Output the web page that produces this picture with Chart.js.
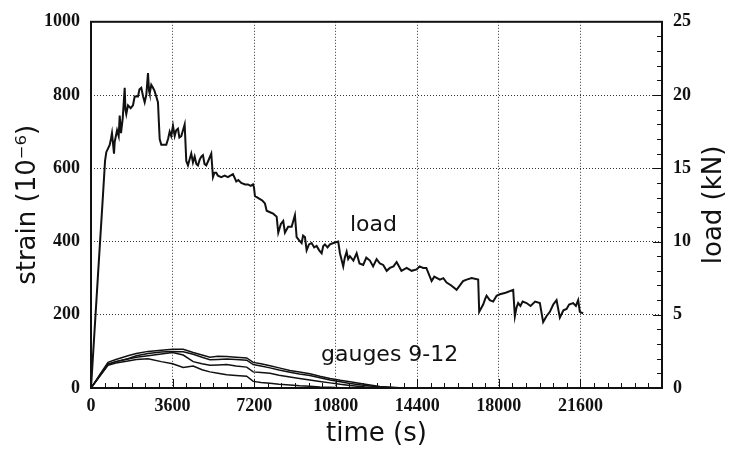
<!DOCTYPE html>
<html lang="en">
<head>
<meta charset="UTF-8">
<title>Strain and load vs time</title>
<script src="https://cdn.jsdelivr.net/npm/chart.js"></script>
<style>
  html, body { margin: 0; padding: 0; background: #fff; }
  #wrap { width: 734px; height: 460px; }
</style>
</head>
<body>
<div id="wrap"><canvas id="chart" width="734" height="460"></canvas></div>
<script>
// load record (time in s, load in kN, right axis)
const loadTime = [0, 300, 530, 620, 675, 825, 880, 926, 1015, 1046, 1150, 1222, 1266, 1324, 1400, 1487,
  1520, 1557, 1632, 1750, 1853, 1928, 2074, 2140, 2219, 2300, 2369, 2440, 2515, 2560, 2590, 2660,
  2735, 2800, 2881, 2956, 3000, 3031, 3102, 3322, 3400, 3472, 3540, 3618, 3693, 3760, 3838, 3900,
  3984, 4060, 4134, 4205, 4280, 4350, 4425, 4500, 4575, 4650, 4721, 4800, 4870, 4941, 5010, 5087,
  5200, 5308, 5383, 5450, 5528, 5600, 5749, 5900, 6044, 6150, 6265, 6411, 6500, 6631, 6800, 6927,
  7050, 7147, 7192, 7236, 7350, 7456, 7560, 7677, 7752, 7900, 8043, 8120, 8193, 8264, 8380, 8484,
  8559, 8700, 8855, 9000, 9075, 9180, 9296, 9360, 9442, 9517, 9620, 9737, 9850, 9958, 10070, 10179,
  10250, 10324, 10440, 10545, 10700, 10911, 10986, 11050, 11132, 11200, 11282, 11350, 11427, 11580, 11723, 11850,
  12014, 12150, 12310, 12450, 12605, 12750, 12896, 13050, 13192, 13350, 13488, 13700, 13929, 14150, 14370, 14500,
  14661, 14800, 15032, 15150, 15398, 15550, 15694, 15900, 16135, 16280, 16420, 16576, 16800, 17088, 17132, 17308,
  17400, 17458, 17600, 17749, 17900, 18045, 18300, 18632, 18707, 18780, 18852, 18950, 19050, 19223, 19400, 19600,
  19810, 19955, 20100, 20251, 20400, 20546, 20692, 20850, 20988, 21100, 21279, 21400, 21500, 21574, 21720];
const loadKN = [0, 7.5, 13.2, 15.5, 16.1, 16.6, 17.0, 17.4, 16.0, 16.8, 17.6, 17.2, 18.6, 17.4, 18.4, 20.5,
  19.0, 18.7, 19.3, 19.1, 19.3, 19.9, 19.9, 20.4, 20.5, 19.9, 19.5, 20.0, 21.5, 20.3, 20.1, 20.7,
  20.5, 20.3, 19.9, 19.5, 18.0, 17.0, 16.6, 16.6, 17.0, 17.5, 17.2, 17.9, 17.2, 17.6, 17.7, 17.1,
  17.2, 17.6, 18.0, 15.5, 15.2, 15.6, 16.0, 15.4, 15.8, 15.3, 15.2, 15.6, 15.8, 15.9, 15.3, 15.2,
  15.6, 16.0, 14.4, 14.7, 14.7, 14.5, 14.4, 14.5, 14.4, 14.5, 14.6, 14.1, 14.2, 14.0, 13.9, 13.9,
  13.8, 13.9, 13.7, 13.1, 13.0, 12.9, 12.8, 12.6, 12.1, 12.0, 11.9, 11.8, 11.7, 10.6, 11.2, 11.4,
  10.6, 11.0, 11.0, 11.8, 10.3, 10.1, 9.9, 10.4, 10.3, 9.4, 9.8, 9.9, 9.6, 9.7, 9.4, 9.2,
  9.7, 9.8, 9.6, 9.8, 9.9, 10.0, 9.2, 8.8, 8.3, 8.9, 9.3, 8.8, 9.0, 8.7, 9.2, 8.5,
  8.4, 8.9, 8.7, 8.3, 8.8, 8.5, 8.4, 8.0, 8.2, 8.3, 8.6, 8.0, 8.2, 8.0, 8.1, 8.3,
  8.2, 8.2, 7.3, 7.6, 7.4, 7.5, 7.2, 7.0, 6.7, 7.0, 7.3, 7.4, 7.5, 7.4, 5.2, 5.7,
  6.1, 6.3, 6.0, 5.9, 6.3, 6.4, 6.5, 6.7, 4.9, 5.5, 5.8, 5.6, 5.9, 5.8, 5.6, 5.9,
  5.8, 4.5, 4.9, 5.2, 5.7, 6.0, 4.8, 5.3, 5.4, 5.7, 5.8, 5.6, 6.0, 5.2, 5.1];

// gauges 9-12 (strain, 10^-6)
const gaugeTime = [0, 400, 750, 1100, 1630, 2000, 2520, 3100, 3600, 4070, 4510, 4900, 5250, 5600, 5990, 6400,
  6870, 7160, 7500, 7900, 8300, 8780, 9200, 9660, 10100, 10550, 11000, 11430, 12100, 12750, 13630, 14400];
const gauge9  = [0, 38, 70, 78, 88, 94, 100, 103, 106, 106, 97, 90, 84, 87, 86, 84,
  82, 70, 66, 61, 55, 48, 44, 39, 32, 26, 21, 17, 10, 4, 1, 0];
const gauge10 = [0, 35, 66, 72, 79, 84, 88, 93, 97, 90, 72, 66, 62, 63, 64, 60,
  57, 44, 42, 40, 35, 30, 26, 22, 18, 14, 10, 7, 3, 1, 0, 0];
const gauge11 = [0, 33, 62, 68, 74, 78, 80, 72, 66, 56, 60, 50, 44, 40, 36, 34,
  32, 18, 15, 13, 10, 8, 6, 5, 3, 2, 1, 0, 0, 0, 0, 0];
const gauge12 = [0, 34, 64, 72, 80, 88, 94, 98, 100, 99, 92, 84, 77, 78, 79, 78,
  76, 64, 60, 55, 49, 43, 38, 34, 28, 22, 17, 12, 7, 3, 0, 0];

const timeTicks = [0, 3600, 7200, 10800, 14400, 18000, 21600];

const tickFont = { family: 'Liberation Serif', weight: 'bold', size: 18 };
const titleFont = { family: 'DejaVu Sans', size: 26 };

function pts(xs, ys) {
  return xs.map((x, i) => ({ x: x, y: ys[i] }));
}

function gaugeSet(label, ys) {
  return { label: label, data: pts(gaugeTime, ys), yAxisID: 'y', borderColor: '#111', borderWidth: 1.5,
    pointRadius: 0, fill: false, tension: 0 };
}

// frame, minor ticks, right title, in-plot labels
const extras = {
  id: 'extras',
  afterDatasetsDraw(chart) {
    const ctx = chart.ctx;
    const a = chart.chartArea;
    const sx = chart.scales.x, sy = chart.scales.y, s2 = chart.scales.y2;
    ctx.save();
    ctx.strokeStyle = '#111';
    ctx.lineWidth = 1;
    ctx.beginPath();
    for (let t = 600; t < 25200; t += 600) {
      const px = Math.round(sx.getPixelForValue(t)) + 0.5;
      const len = t % 3600 === 0 ? 9 : 5;
      ctx.moveTo(px, a.bottom);
      ctx.lineTo(px, a.bottom - len);
    }
    for (let k = 1; k < 25; k++) {
      const py = Math.round(s2.getPixelForValue(k)) + 0.5;
      ctx.moveTo(a.right, py);
      ctx.lineTo(a.right - (k % 5 === 0 ? 9 : 5), py);
    }
    ctx.stroke();

    ctx.lineWidth = 2;
    ctx.strokeRect(a.left, a.top, a.right - a.left, a.bottom - a.top);

    ctx.fillStyle = '#111';
    ctx.font = '26px "DejaVu Sans"';
    ctx.textAlign = 'center';
    ctx.textBaseline = 'middle';
    ctx.translate(714, (a.top + a.bottom) / 2);
    ctx.rotate(-Math.PI / 2);
    ctx.fillText('load (kN)', 0, 0);
    ctx.restore();

    ctx.save();
    ctx.fillStyle = '#111';
    ctx.font = '22px "DejaVu Sans"';
    ctx.textAlign = 'left';
    ctx.textBaseline = 'alphabetic';
    ctx.fillText('load', sx.getPixelForValue(11430), sy.getPixelForValue(428));
    ctx.fillText('gauges 9-12', sx.getPixelForValue(10150), sy.getPixelForValue(75));
    ctx.restore();
  }
};

function gridColor(c) {
  const v = c.tick.value;
  return (v === c.scale.min || v === c.scale.max) ? 'rgba(0,0,0,0)' : '#333';
}

new Chart(document.getElementById('chart'), {
  type: 'line',
  data: {
    datasets: [
      { label: 'load', data: pts(loadTime, loadKN), yAxisID: 'y2', borderColor: '#111', borderWidth: 2,
        pointRadius: 0, fill: false, tension: 0 },
      gaugeSet('gauge 9', gauge9),
      gaugeSet('gauge 10', gauge10),
      gaugeSet('gauge 11', gauge11),
      gaugeSet('gauge 12', gauge12)
    ]
  },
  options: {
    responsive: false,
    animation: false,
    layout: { padding: { top: 14, left: 0, right: 0, bottom: 0 } },
    plugins: { legend: { display: false }, tooltip: { enabled: false } },
    scales: {
      x: {
        type: 'linear', min: 0, max: 25200,
        afterFit: s => { s.height = 72; },
        ticks: {
          stepSize: 3600, autoSkip: false, maxRotation: 0, color: '#111', font: tickFont, padding: 8,
          callback: v => timeTicks.includes(v) ? String(v) : ''
        },
        grid: { color: gridColor, lineWidth: 1, drawTicks: false },
        border: { display: false, dash: [1, 2] },
        title: { display: true, text: 'time (s)', color: '#111', font: titleFont, padding: { top: 0, bottom: 10 } }
      },
      y: {
        position: 'left', min: 0, max: 1000,
        afterFit: s => { s.width = 91; },
        ticks: { stepSize: 200, color: '#111', font: tickFont, padding: 11, callback: v => String(v) },
        grid: { color: gridColor, lineWidth: 1, drawTicks: false },
        border: { display: false, dash: [1, 2] },
        title: { display: true, text: 'strain (10⁻⁶)', color: '#111', font: titleFont, padding: { top: 13, bottom: 0 } }
      },
      y2: {
        position: 'right', min: 0, max: 25,
        afterFit: s => { s.width = 72; },
        ticks: { stepSize: 5, color: '#111', font: tickFont, padding: 11, callback: v => String(v) },
        grid: { drawOnChartArea: false, drawTicks: false },
        border: { display: false }
      }
    }
  },
  plugins: [extras]
});
</script>
</body>
</html>
